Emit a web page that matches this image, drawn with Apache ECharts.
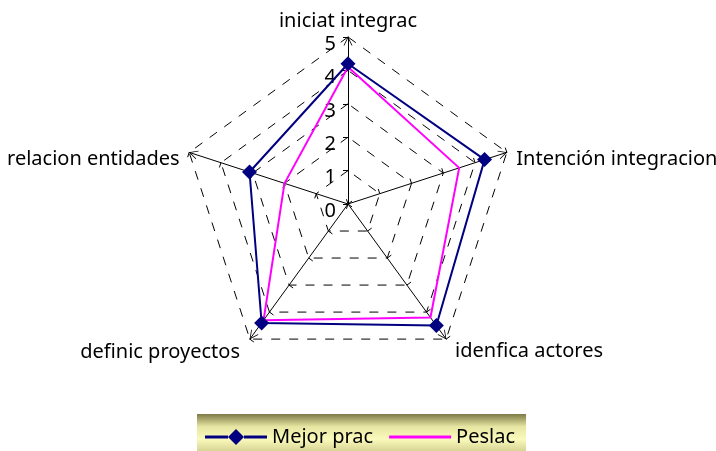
<!DOCTYPE html>
<html>
<head>
<meta charset="utf-8">
<script src="https://cdn.jsdelivr.net/npm/echarts@6/dist/echarts.min.js"></script>
<style>
html,body{margin:0;padding:0;background:#fff;}
#chart{width:716px;height:451px;}
</style>
</head>
<body>
<div id="chart"></div>
<script>
// Categories in the reference's clockwise order, starting at the top
var categories = ['iniciat integrac', 'Intención integracion', 'idenfica actores', 'definic proyectos', 'relacion entidades'];
var mejorPrac = [4.2, 4.3, 4.5, 4.4, 3.1];
var peslac = [4.1, 3.5, 4.2, 4.3, 2.0];
var seriesNames = ['Mejor prac', 'Peslac'];
var axisMax = 5;

// ECharts radar runs counter-clockwise; reorder to keep the reference's clockwise layout
var order = [0, 4, 3, 2, 1];
function reorder(arr) { return order.map(function (i) { return arr[i]; }); }

var FONT = 'Noto Sans';
// rich style key per category (index in categories)
var nameStyleKey = ['t', 'r', 'br', 'bl', 'l'];

var indicators = order.map(function (i, k) {
  var ind = { name: categories[i], min: 0, max: axisMax };
  if (k === 0) {
    ind.axisLabel = {
      show: true, color: '#000', fontSize: 20, fontFamily: FONT, margin: 12,
      formatter: function (v) { return '{v|' + v + '}'; },
      rich: { v: { color: '#000', fontSize: 20, fontFamily: FONT, padding: [14, 0, 0, 0] } }
    };
  }
  return ind;
});

var nameRich = {
  t:  { color: '#000', fontSize: 20, fontFamily: FONT, lineHeight: 12 },
  r:  { color: '#000', fontSize: 20, fontFamily: FONT, padding: [20, 0, 0, 0] },
  l:  { color: '#000', fontSize: 20, fontFamily: FONT, padding: [20, 0, 0, 0] },
  br: { color: '#000', fontSize: 20, fontFamily: FONT, padding: [9, 0, 0, 3] },
  bl: { color: '#000', fontSize: 20, fontFamily: FONT, padding: [10, 4, 0, 0] }
};

var diamondIcon = 'path://M0,6.5 L23,6.5 L23,9.5 L0,9.5 Z M39,6.5 L62,6.5 L62,9.5 L39,9.5 Z M31,0 L39,8 L31,16 L23,8 Z';
var lineIcon = 'path://M0,0 L0.01,0 L0.01,0.01 Z M0,6.5 L62,6.5 L62,9.5 L0,9.5 Z M62,16 L61.99,16 L61.99,15.99 Z';

var chart = echarts.init(document.getElementById('chart'), null, { renderer: 'canvas' });
chart.setOption({
  animation: false,
  backgroundColor: '#fff',
  legend: {
    left: 197,
    top: 414,
    padding: [13, 11, 9, 8],
    itemGap: 16,
    itemWidth: 62,
    itemHeight: 16,
    textStyle: { color: '#000', fontSize: 20, fontFamily: FONT },
    backgroundColor: new echarts.graphic.LinearGradient(0, 0, 0, 1, [
      { offset: 0, color: '#7f7a46' },
      { offset: 0.3, color: '#e6e5a2' },
      { offset: 0.6, color: '#fafabc' },
      { offset: 1, color: '#c9c583' }
    ]),
    data: [
      { name: seriesNames[0], icon: diamondIcon },
      { name: seriesNames[1], icon: lineIcon }
    ]
  },
  radar: {
    center: [348, 204],
    radius: 167,
    startAngle: 90,
    shape: 'polygon',
    splitNumber: 5,
    indicator: indicators,
    axisName: {
      color: '#000', fontSize: 20, fontFamily: FONT,
      formatter: function (name) {
        var idx = categories.indexOf(name);
        return '{' + nameStyleKey[idx] + '|' + name + '}';
      },
      rich: nameRich
    },
    nameGap: 10,
    axisLine: {
      show: true,
      lineStyle: { color: '#000', width: 1 },
      symbol: ['none', 'path://M-5,10 L0,0 L5,10 L4,10 L0,2 L-4,10 Z'],
      symbolSize: [9, 9],
      symbolOffset: [0, -4]
    },
    axisTick: { show: true, length: 5, lineStyle: { color: '#000', width: 1 } },
    axisLabel: { show: false },
    splitLine: { show: true, lineStyle: { color: '#000', width: 1, type: [9, 9] } },
    splitArea: { show: false }
  },
  series: [{
    type: 'radar',
    data: [
      {
        name: seriesNames[0],
        value: reorder(mejorPrac),
        symbol: 'diamond',
        symbolSize: 15,
        lineStyle: { color: '#000080', width: 2 },
        itemStyle: { color: '#000080' }
      },
      {
        name: seriesNames[1],
        value: reorder(peslac),
        symbol: 'none',
        lineStyle: { color: '#ff00ff', width: 2 },
        itemStyle: { color: '#ff00ff' }
      }
    ]
  }]
});
</script>
</body>
</html>
